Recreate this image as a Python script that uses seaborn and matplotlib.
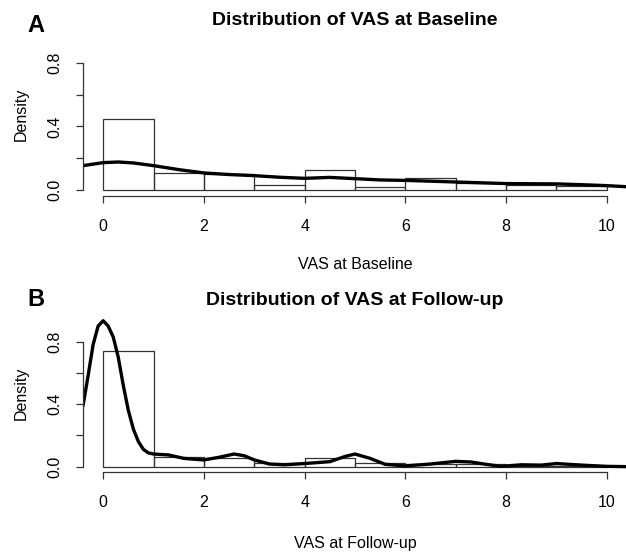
import numpy as np
import pandas as pd
import matplotlib
matplotlib.use('Agg')
import matplotlib.pyplot as plt
import seaborn as sns

# histogram bins (unit width) and densities
bin_edges = [0, 1, 2, 3, 4, 5, 6, 7, 8, 9, 10]
bin_mid = [0.5, 1.5, 2.5, 3.5, 4.5, 5.5, 6.5, 7.5, 8.5, 9.5]
base_hist = [0.447, 0.107, 0.103, 0.033, 0.128, 0.017, 0.073, 0.045, 0.030, 0.023]
follow_hist = [0.742, 0.060, 0.055, 0.026, 0.053, 0.026, 0.015, 0.020, 0.005, 0.005]

# density curves
base_kx = [-0.6, -0.4, 0.0, 0.3, 0.6, 1.0, 1.5, 2.0, 2.5, 3.0, 3.5, 4.0, 4.5, 5.0,
           5.5, 6.0, 6.5, 7.0, 7.5, 8.0, 8.5, 9.0, 9.5, 10.0, 10.4, 10.6]
base_ky = [0.145, 0.153, 0.172, 0.176, 0.170, 0.153, 0.128, 0.107, 0.097, 0.090, 0.080,
           0.073, 0.079, 0.071, 0.063, 0.060, 0.055, 0.050, 0.045, 0.040, 0.039, 0.038,
           0.033, 0.027, 0.020, 0.018]
follow_kx = [-0.6, -0.4, -0.3, -0.2, -0.1, 0.0, 0.1, 0.2, 0.3, 0.4, 0.5, 0.6, 0.7, 0.8,
             0.9, 1.0, 1.3, 1.6, 2.0, 2.3, 2.6, 2.8, 3.0, 3.3, 3.6, 4.0, 4.5, 4.8, 5.0,
             5.3, 5.6, 6.0, 6.5, 7.0, 7.3, 7.6, 7.9, 8.3, 8.7, 9.0, 9.5, 10.0, 10.4, 10.6]
follow_ky = [0.25, 0.39, 0.58, 0.78, 0.90, 0.934, 0.90, 0.83, 0.70, 0.52, 0.36, 0.24,
             0.16, 0.11, 0.088, 0.081, 0.075, 0.053, 0.043, 0.060, 0.081, 0.070, 0.043,
             0.017, 0.012, 0.020, 0.032, 0.065, 0.081, 0.053, 0.015, 0.005, 0.017, 0.034,
             0.030, 0.015, 0.002, 0.012, 0.010, 0.020, 0.010, 0.002, 0.000, 0.000]

panels = [
    ('A', 'Distribution of VAS at Baseline', 'VAS at Baseline', base_hist, base_kx, base_ky,
     [0.1326, 0.645, 0.869, 0.295], (-0.038, 0.988), 0.953, 0.962, 17),
    ('B', 'Distribution of VAS at Follow-up', 'VAS at Follow-up', follow_hist, follow_kx, follow_ky,
     [0.1326, 0.1444, 0.869, 0.287], (-0.036, 0.978), 0.458, 0.4565, 18.5),
]

sns.set_theme(style='ticks')
plt.rcParams['font.family'] = ['Liberation Sans', 'DejaVu Sans']
plt.rcParams['text.color'] = 'black'
plt.rcParams['axes.labelcolor'] = 'black'
plt.rcParams['xtick.labelcolor'] = 'black'
plt.rcParams['ytick.labelcolor'] = 'black'

fig = plt.figure(figsize=(6.26, 5.52), dpi=100)

for letter, title, xlab, hist, kx, ky, rect, ylim, ly, ty, xpad in panels:
    ax = fig.add_axes(rect)
    sns.histplot(x=bin_mid, weights=hist, bins=bin_edges, stat='count',
                 fill=False, element='bars', color='#333333', linewidth=0.9, ax=ax)
    curve = pd.DataFrame({'x': kx, 'y': ky})
    sns.lineplot(data=curve, x='x', y='y', sort=False, color='black', linewidth=2.4, ax=ax)
    ax.set_xlim(-0.4, 10.4)
    ax.set_ylim(*ylim)
    ax.spines['top'].set_visible(False)
    ax.spines['right'].set_visible(False)
    ax.spines['left'].set_bounds(0, 0.8)
    ax.spines['bottom'].set_bounds(0, 10)
    for s in ['left', 'bottom']:
        ax.spines[s].set_color('#333333')
        ax.spines[s].set_linewidth(0.9)
    ax.set_xticks([0, 2, 4, 6, 8, 10])
    ax.set_xticklabels(['0', '2', '4', '6', '8', '10'], fontsize=11.5)
    ax.set_yticks([0, 0.2, 0.4, 0.6, 0.8])
    ax.set_yticklabels(['0.0', '', '0.4', '', '0.8'], fontsize=11.5, rotation=90, va='center')
    ax.tick_params(length=5, width=0.9, color='#333333')
    ax.tick_params(axis='x', pad=11.5)
    ax.tick_params(axis='y', pad=9.5)
    ax.set_xlabel(xlab, fontsize=11.5, labelpad=xpad)
    ax.set_ylabel('Density', fontsize=11.5, labelpad=14)
    fig.text(0.567, ty, title, fontsize=14, fontweight='bold', ha='center', va='center')
    fig.text(0.043, ly, letter, fontsize=17, fontweight='bold', ha='left', va='center')

fig.savefig('out.png', dpi=100)
